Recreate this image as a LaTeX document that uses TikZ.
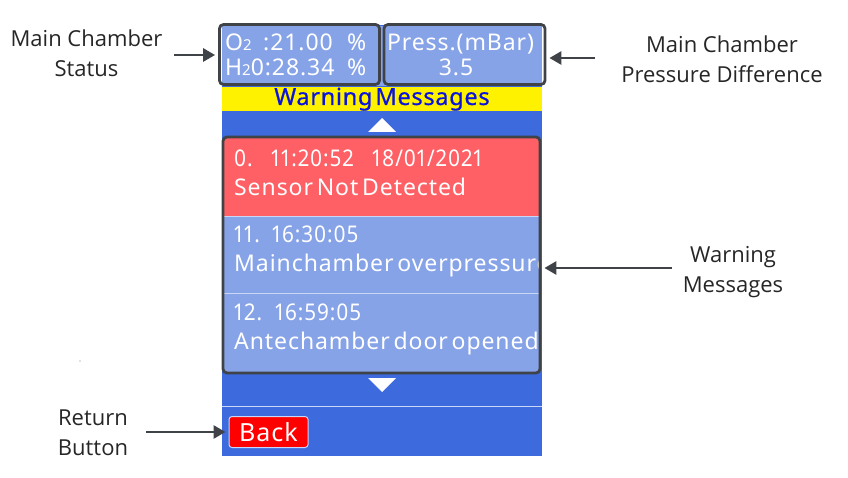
\documentclass[tikz,border=0pt]{standalone}
\usepackage{fontspec}
\setmainfont{Open Sans}
\newfontfamily\lcd[LetterSpace=4,WordSpace=0.55]{Noto Sans}
\newfontfamily\lcdn[LetterSpace=4,FakeStretch=0.9,Numbers=Proportional]{Noto Sans}
\newfontfamily\lcdb[LetterSpace=3,WordSpace=0.45,FakeBold=0.7]{Noto Sans}
\usetikzlibrary{arrows.meta}
\definecolor{scrblue}{HTML}{3D6BDD}
\definecolor{rowblue}{HTML}{86A3E8}
\definecolor{rowred}{HTML}{FE6065}
\definecolor{frame}{HTML}{3F4347}
\definecolor{rule}{HTML}{C9D6F5}
\definecolor{warn}{HTML}{0A14DC}
\tikzset{
  lab/.style={font=\fontsize{22}{30}\selectfont, text=black!85, align=center, inner sep=0pt},
  lcdw/.style={font=\lcd\fontsize{23}{26}\selectfont, text=white, inner sep=0pt, anchor=base west},
  lcdd/.style={font=\lcdn\fontsize{23}{26}\selectfont, text=white, inner sep=0pt, anchor=base west},
  lcdc/.style={font=\lcd\fontsize{23}{26}\selectfont, text=white, inner sep=0pt, anchor=base},
  hl/.style={draw=frame, line width=2.8pt, rounded corners=4pt, fill=none},
  pointer/.style={draw=frame, line width=2.8pt, -{Triangle[length=12pt,width=13pt]}, shorten >=3pt},
  tri/.style={fill=white, draw=none},
  sep/.style={draw=rule, line width=1pt}
}
\newcommand{\smalltwo}{{\fontsize{15}{15}\selectfont 2}}
\begin{document}
\begin{tikzpicture}[x=1pt,y=-1pt]
\useasboundingbox (0,0) rectangle (848,478);
% screen
\fill[scrblue] (222,25) rectangle (542,456);
\fill[rowblue] (222,26) rectangle (542,86);
\fill[yellow] (222,87) rectangle (542,111);
\fill[rowred] (223,137) rectangle (540,216);
\fill[rowblue] (223,217) rectangle (540,372);
\draw[sep] (223,216.5) -- (540,216.5);
\draw[sep] (223,293) -- (540,293);
\draw[sep] (222,406.5) -- (542,406.5);
% status
\node[lcdw] at (225,51) {O\smalltwo};
\node[lcdw] at (263,51) {:21.00};
\node[lcdw] at (347,51) {\%};
\node[lcdw] at (225,76) {H\smalltwo 0:28.34};
\node[lcdw] at (347,76) {\%};
\node[lcdc] at (460.5,51) {Press.(mBar)};
\node[lcdc] at (456,76) {3.5};
% title
\node[font=\lcdb\fontsize{23.5}{26}\selectfont, text=warn, inner sep=0pt, anchor=base] at (382,105) {Warning Messages};
% triangles
\fill[tri] (368,132) -- (382,118) -- (396,132) -- cycle;
\fill[tri] (368,378) -- (396,378) -- (382,392) -- cycle;
% rows
\begin{scope}
\clip (223,137) rectangle (539,372);
\node[lcdd] at (234,167) {0.};
\node[lcdd] at (271,167) {11:20:52};
\node[lcdd] at (372,167) {18/01/2021};
\node[lcdw] at (234,196) {Sensor Not Detected};
\node[lcdd] at (234,243) {11.};
\node[lcdd] at (272,243) {16:30:05};
\node[lcdw] at (234,272) {Mainchamber overpressure};
\node[lcdd] at (234,320) {12.};
\node[lcdd] at (275,320) {16:59:05};
\node[lcdw] at (234,349) {Antechamber door opened};
\end{scope}
% back button
\node[draw=rule, fill=red, rounded corners=3pt, line width=1pt, minimum width=79pt, minimum height=31pt, inner sep=0pt, font=\lcd\fontsize{25}{27}\selectfont, text=white] (back) at (268.5,432) {Back};
% highlight boxes
\node[hl, minimum width=160pt, minimum height=60pt, inner sep=0pt] (status) at (299.5,54.5) {};
\node[hl, minimum width=161pt, minimum height=60pt, inner sep=0pt] (press) at (464.5,54.5) {};
\node[hl, minimum width=317pt, minimum height=236pt, inner sep=0pt] (msgs) at (381.5,255) {};
% labels
\node[lab] (lstatus) at (86.5,53) {Main Chamber\\Status};
\node[lab] (lpress) at (722,59) {Main Chamber\\Pressure Difference};
\node[lab] (lmsgs) at (733,272) {Warning\\Messages};
\node[lab] (lback) at (93,433) {Return\\Button};
\coordinate (a1) at (174,55);
\coordinate (a2) at (595,58);
\coordinate (a3) at (672,268);
\coordinate (a4) at (146,432);
\draw[pointer] (a1) -- (a1 -| status.west);
\draw[pointer] (a2) -- (a2 -| press.east);
\draw[pointer] (a3) -- (a3 -| msgs.east);
\draw[pointer] (a4) -- (a4 -| back.west);
\fill[gray] (80,361) circle (0.6pt);
\end{tikzpicture}
\end{document}
